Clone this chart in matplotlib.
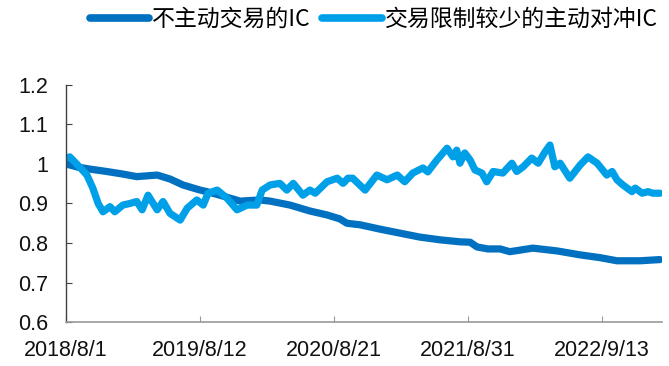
import matplotlib
matplotlib.use("Agg")
import matplotlib.pyplot as plt
from matplotlib.ticker import FuncFormatter, FixedLocator

plt.rcParams['font.family'] = ['Liberation Sans', 'Noto Sans CJK SC', 'DejaVu Sans']

# trading-day positions (0 = 2018/8/1) and values
passive_idx = [0, 22, 45, 76, 104, 132, 170, 194, 218, 250, 263, 287, 325, 362, 381, 418,
               455, 487, 511, 524, 549, 586, 623, 660, 698, 735, 754, 767, 787, 810, 828,
               871, 916, 959, 996, 1028, 1071, 1108]
passive_val = [1.0, 0.992, 0.987, 0.981, 0.975, 0.968, 0.972, 0.962, 0.947, 0.934, 0.93, 0.921,
               0.906, 0.909, 0.906, 0.896, 0.881, 0.871, 0.861, 0.85, 0.846, 0.835, 0.825,
               0.815, 0.808, 0.803, 0.802, 0.79, 0.785, 0.785, 0.778, 0.787, 0.78, 0.77,
               0.763, 0.755, 0.755, 0.758]

hedge_idx = [0, 7, 22, 39, 50, 60, 69, 82, 91, 106, 119, 132, 142, 153, 170, 181, 194, 213,
             226, 244, 256, 265, 282, 300, 319, 338, 356, 366, 381, 399, 412, 424, 442, 455,
             465, 487, 506, 517, 526, 535, 558, 580, 599, 618, 632, 647, 666, 675, 692, 711,
             722, 729, 735, 744, 754, 763, 776, 785, 797, 815, 832, 841, 853, 869, 881, 894,
             903, 912, 922, 940, 959, 974, 991, 1009, 1019, 1028, 1039, 1056, 1062, 1075,
             1086, 1095, 1108]
hedge_val = [1.015, 1.018, 0.997, 0.972, 0.939, 0.9, 0.879, 0.892, 0.879, 0.896, 0.9, 0.905,
             0.884, 0.921, 0.884, 0.905, 0.875, 0.858, 0.888, 0.909, 0.896, 0.926, 0.934,
             0.914, 0.884, 0.896, 0.896, 0.934, 0.947, 0.951, 0.934, 0.951, 0.921, 0.934,
             0.926, 0.955, 0.964, 0.951, 0.964, 0.964, 0.934, 0.972, 0.96, 0.972, 0.955,
             0.977, 0.99, 0.98, 1.01, 1.04, 1.018, 1.035, 1.002, 1.028, 1.01, 0.985, 0.977,
             0.955, 0.981, 0.977, 1.002, 0.981, 0.993, 1.015, 1.002, 1.031, 1.048, 0.993,
             1.002, 0.964, 0.997, 1.018, 1.002, 0.972, 0.981, 0.96, 0.947, 0.93, 0.939,
             0.926, 0.93, 0.926, 0.926]

tick_pos = [0, 250, 500, 750, 1000]
tick_labels = ['2018/8/1', '2019/8/12', '2020/8/21', '2021/8/31', '2022/9/13']
series_names = ['不主动交易的IC', '交易限制较少的主动对冲IC']

fig = plt.figure(figsize=(6.69, 3.66), dpi=100)
ax = fig.add_axes([0.0987, 0.1202, 0.8908, 0.6476])

ax.plot(passive_idx, passive_val, color='#0070C0', lw=5.2, solid_capstyle='round',
        solid_joinstyle='round', label=series_names[0])
ax.plot(hedge_idx, hedge_val, color='#00A0E9', lw=5.2, solid_capstyle='round',
        solid_joinstyle='round', label=series_names[1])

ax.set_xlim(0, 1112)
ax.set_ylim(0.6, 1.2)
ax.yaxis.set_major_locator(FixedLocator([0.6, 0.7, 0.8, 0.9, 1.0, 1.1, 1.2]))
ax.yaxis.set_major_formatter(FuncFormatter(lambda v, p: f'{v:g}'))
ax.set_xticks(tick_pos)
ax.set_xticklabels(tick_labels)

for s in ['top', 'right']:
    ax.spines[s].set_visible(False)
ax.spines['left'].set_color('#404040')
ax.spines['left'].set_linewidth(1.0)
ax.spines['bottom'].set_color('#999999')
ax.spines['bottom'].set_linewidth(1.2)

ax.tick_params(axis='y', direction='in', length=4.5, width=0.8, color='#404040',
               labelsize=15.5, pad=13, labelcolor='#111111')
ax.tick_params(axis='x', direction='in', length=4.5, width=0.8, color='#999999',
               labelsize=15.5, pad=13, labelcolor='#111111')

leg = fig.legend(loc='upper right', bbox_to_anchor=(1.0, 1.01), ncol=2, frameon=False,
                 prop={'family': ['Noto Sans CJK SC', 'DejaVu Sans'], 'size': 16.5},
                 handlelength=2.6, handletextpad=0.12, columnspacing=0.5,
                 borderaxespad=0.1)
for h in leg.get_lines():
    h.set_linewidth(5.5)

fig.savefig('out.png', dpi=100)
